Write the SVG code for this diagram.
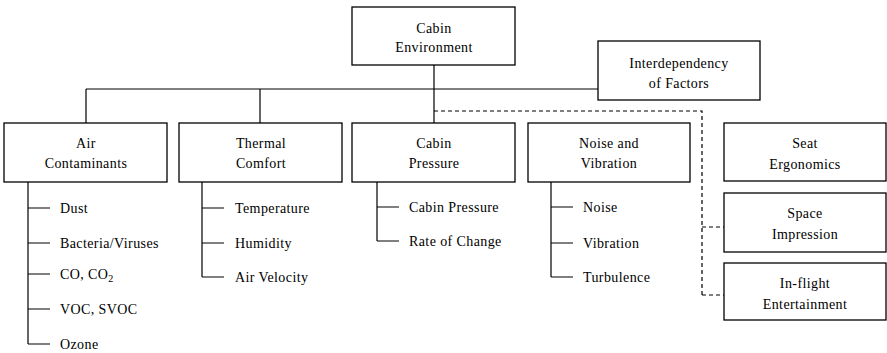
<svg xmlns="http://www.w3.org/2000/svg" width="887" height="353" viewBox="0 0 887 353" font-family="Liberation Serif, Times New Roman, DejaVu Serif, serif" font-size="14">
<style>
.c{text-anchor:middle}
text{letter-spacing:0.4px;fill:#000}
.bx{fill:#fff;stroke:#000;stroke-width:1.3}
.ln{stroke:#000;stroke-width:1.2;fill:none}
.ds{stroke:#000;stroke-width:1.2;fill:none;stroke-dasharray:4 3}
</style>
<g id="connectors">
<path class="ln" d="M86 89H598M86 89V123M260 89V123M434 65V123"/>
<path class="ds" d="M434 111H702V295M702 227H724M702 295H724"/>
<path class="ln" d="M28 182V344M28 208H50M28 243H50M28 274H50M28 309H50M28 344H50"/>
<path class="ln" d="M202 182V277M202 208H224M202 243H224M202 277H224"/>
<path class="ln" d="M377 182V241M377 207H399M377 241H399"/>
<path class="ln" d="M551 182V277M551 207H573M551 243H573M551 277H573"/>
</g>
<g id="cabin-environment"><rect class="bx" x="352" y="7" width="163" height="58"/><text class="c" x="434" y="33">Cabin</text><text class="c" x="434" y="52">Environment</text></g>
<g id="interdependency"><rect class="bx" x="598" y="41" width="162" height="59"/><text class="c" x="679" y="68">Interdependency</text><text class="c" x="679" y="88">of Factors</text></g>
<g id="air-contaminants"><rect class="bx" x="4" y="123" width="163" height="59"/><text class="c" x="86" y="148">Air</text><text class="c" x="86" y="168">Contaminants</text></g>
<g id="thermal-comfort"><rect class="bx" x="179" y="123" width="163" height="59"/><text class="c" x="261" y="148">Thermal</text><text class="c" x="261" y="168">Comfort</text></g>
<g id="cabin-pressure"><rect class="bx" x="352" y="123" width="163" height="59"/><text class="c" x="434" y="148">Cabin</text><text class="c" x="434" y="168">Pressure</text></g>
<g id="noise-vibration"><rect class="bx" x="528" y="123" width="162" height="59"/><text class="c" x="609" y="148">Noise and</text><text class="c" x="609" y="168">Vibration</text></g>
<g id="seat-ergonomics"><rect class="bx" x="724" y="123" width="162" height="58"/><text class="c" x="805" y="148">Seat</text><text class="c" x="805" y="169">Ergonomics</text></g>
<g id="space-impression"><rect class="bx" x="724" y="193" width="162" height="59"/><text class="c" x="805" y="218">Space</text><text class="c" x="805" y="239">Impression</text></g>
<g id="inflight-entertainment"><rect class="bx" x="724" y="263" width="162" height="57"/><text class="c" x="805" y="288">In-flight</text><text class="c" x="805" y="309">Entertainment</text></g>
<g id="air-items">
<text x="60" y="213">Dust</text>
<text x="60" y="248">Bacteria/Viruses</text>
<text x="60" y="279">CO, CO<tspan font-size="10" dy="3">2</tspan></text>
<text x="60" y="314">VOC, SVOC</text>
<text x="60" y="349">Ozone</text>
</g>
<g id="thermal-items">
<text x="235" y="213">Temperature</text>
<text x="235" y="248">Humidity</text>
<text x="235" y="282">Air Velocity</text>
</g>
<g id="pressure-items">
<text x="409" y="212">Cabin Pressure</text>
<text x="409" y="246">Rate of Change</text>
</g>
<g id="noise-items">
<text x="583" y="212">Noise</text>
<text x="583" y="248">Vibration</text>
<text x="583" y="282">Turbulence</text>
</g>
</svg>
